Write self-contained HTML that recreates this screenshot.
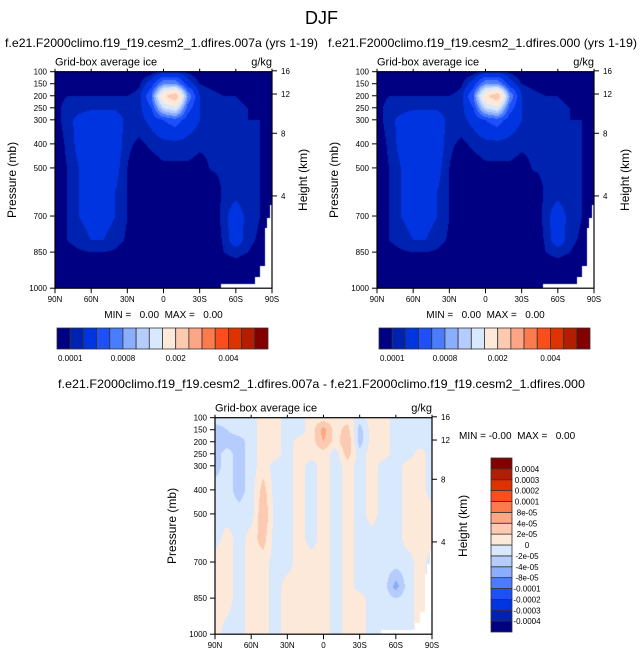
<!DOCTYPE html>
<html><head><meta charset="utf-8"><style>
html,body{margin:0;padding:0;background:#fff;width:643px;height:658px;overflow:hidden}
#wrap{position:relative;width:643px;height:658px}
canvas{position:absolute}
svg{position:absolute;left:0;top:0}
text{font-family:"Liberation Sans",sans-serif;fill:#000}
.pre{white-space:pre}
</style></head><body>
<div id="wrap">
<canvas id="c1"></canvas>
<canvas id="c2"></canvas>
<canvas id="c3"></canvas>
<svg id="s" width="643" height="658"></svg>
</div>
<script>
// ---- data ----
const lats = [90,80,70,60,50,40,30,20,10,0,-10,-20,-30,-40,-50,-60,-70,-80,-90];
const plevs = [100,150,200,250,300,400,500,600,700,800,850,1000];
// mean ice, units of 1e-4 g/kg
const iceMean = [
[0,0,0,0,0,0,0,0,0.5,1.5,1.5,0.8,0,0,0,0,0,0,0],
[0,0,0,0,0,0,0,0.8,3,8,8,3,1,0.5,0,0,0,0,0],
[0.5,1,1,1,1,1,1,1.5,6,19,24,8,2,1.5,1,1,0.8,0.5,0.5],
[0.5,1.5,1.5,1.8,1.8,1.8,1.2,1.5,4,12,14,5,2,1.8,1.5,1.2,1,0.8,0.5],
[0.5,1.5,2.5,3,3,3,1.5,1.5,2.5,4,5,3,2,1.8,1.5,1.2,1,1,0.5],
[0.3,1.2,2.5,3.5,3.5,3,1.2,0.8,1.2,1.5,1.5,1.5,1.2,1.2,1.2,1.2,1,1,0.8],
[0.2,1,2,3,3,2.5,1,0.2,0.5,0.8,0.8,0.8,0.6,1.1,1.2,1.2,1.1,1,0.8],
[0,1,2,2.5,2.5,2,1,0,0,0,0,0,0,0.2,1.2,1.5,1.1,1,0.5],
[0,1,2,2.5,2.5,2,1,0,0,0,0,0,0,0,1.5,3,1.5,1,0.3],
[0,1,1.5,2,2,1.5,0.8,0,0,0,0,0,0,0,1.2,3,1.3,0.8,0],
[0,0.5,0.8,1,1,0.8,0,0,0,0,0,0,0,0,1,1.2,1,0.5,0],
[0,0,0,0,0,0,0,0,0,0,0,0,0,0,0,0,0,0,0]];
const iceMean2 = iceMean;
// difference, units of 1e-5 g/kg
const iceDiff = [
[-1,-1,-1,-1,1,1,-1,-1,1,1,1,1,-1,1,1,-1,-1,-1,-1],
[-3,-2,-1,-1,1,1,-1,-1,1,5,1,3,-3,1,1,-1,-1,-1,-1],
[-3,-3,-3,-1,1,1,-1,1,1,4,1,4,-3,1,1,-1,-1,-1,-1],
[-3,-1,-3,-1,1,1,-1,1,1,1,-1,3,-1,1,1,-1,-1,1,-1],
[-3,-1,-3,-1,1,-1,-1,1,-1,1,-1,1,-1,1,-1,-1,1,1,-1],
[-1,-1,-3,-1,3,-1,-1,1,-1,1,-1,1,-1,1,-1,-1,1,1,-1],
[-1,-1,-1,-1,4,-1,-1,1,-1,1,-1,1,-1,1,-1,-1,1,1,1],
[-1,1,-1,1,3,-1,-1,1,-1,1,-1,1,-1,-1,-1,-1,1,1,1],
[1,1,-1,1,1,-1,-1,1,1,1,-1,1,-1,-1,-1,-1,-1,1,-1],
[1,1,-1,1,1,-1,1,1,1,1,-1,1,-1,-1,-1,-5,-1,1,-1],
[1,1,-1,1,1,-1,1,1,1,1,-1,1,1,-1,-1,-2,-1,1,-1],
[1,-1,-1,1,1,-1,1,1,1,1,-1,1,1,-1,-1,-1,-1,1,-1]];
const meanLevels = [1,2,4,6,8,10,12,15,20,25,30,35,40,45,50];
const meanLabels = ["0.0001","0.0008","0.002","0.004"];
const diffLevels = [-40,-30,-20,-10,-8,-4,-2,0,2,4,8,10,20,30,40];
const diffLabels = ["-0.0004","-0.0003","-0.0002","-0.0001","-8e-05","-4e-05","-2e-05","0","2e-05","4e-05","8e-05","0.0001","0.0002","0.0003","0.0004"];
const terrainLat = [-48,-75,-76,-80,-84,-86,-88,-90];
const terrainPs = [980,980,953,905,750,705,654,600];
const presTicks = [100,150,200,250,300,400,500,700,850,1000];
const latTicks = [90,60,30,0,-30,-60,-90];
const htTicks = [16,12,8,4];
const colors = ["#000082","#0022b0","#0034e0","#1e4ffa","#4a7dfc","#8aaefc","#b5ccfc","#d8e8fd","#fde9da","#fccab0","#fca686","#fc7a4c","#fc4e1c","#e03200","#b41e00","#820000"];

const S = document.getElementById('s');
const NS = 'http://www.w3.org/2000/svg';
function el(tag, attrs, txt){const e=document.createElementNS(NS,tag);for(const k in attrs)e.setAttribute(k,attrs[k]);if(txt!==undefined)e.textContent=txt;S.appendChild(e);return e;}
function hex(c){return [parseInt(c.substr(1,2),16),parseInt(c.substr(3,2),16),parseInt(c.substr(5,2),16)];}
const rgb = colors.map(hex);
function ps(lat){
  if(lat>terrainLat[0]) return 2000;
  for(let i=0;i<terrainLat.length-1;i++){ if(lat<=terrainLat[i]&&lat>terrainLat[i+1]) return terrainPs[i]; }
  return terrainPs[terrainPs.length-1];
}
function sample(grid,lat,p){
  let c=(90-lat)/10; let c0=Math.min(Math.floor(c),lats.length-2); let fc=c-c0;
  let r0=0; while(r0<plevs.length-2 && p>plevs[r0+1]) r0++;
  let fr=(p-plevs[r0])/(plevs[r0+1]-plevs[r0]); fr=Math.max(0,Math.min(1,fr));
  const a=grid[r0][c0],b=grid[r0][c0+1],d=grid[r0+1][c0],e=grid[r0+1][c0+1];
  return (a*(1-fc)+b*fc)*(1-fr)+(d*(1-fc)+e*fc)*fr;
}
function drawField(id,grid,levels,L,T,W,H){
  const cv=document.getElementById(id); cv.width=W; cv.height=H; cv.style.left=L+'px'; cv.style.top=T+'px';
  const ctx=cv.getContext('2d'); const img=ctx.createImageData(W,H);
  for(let y=0;y<H;y++)for(let x=0;x<W;x++){
    const lat=90-(x+0.5)/W*180, p=100+(y+0.5)/H*900;
    const o=(y*W+x)*4; let col;
    if(p>ps(lat)) col=[255,255,255];
    else { const v=sample(grid,lat,p); let k=0; while(k<levels.length&&v>=levels[k])k++; col=rgb[k]; }
    img.data[o]=col[0];img.data[o+1]=col[1];img.data[o+2]=col[2];img.data[o+3]=255;
  }
  ctx.putImageData(img,0,0);
}
function zToP(z){return 1013.25*Math.pow(1-2.25577e-5*z*1000,5.25588);}
function axes(L,T,W,H,pref){
  const xs=lat=>L+(90-lat)/180*W, ys=p=>T+(p-100)/900*H;
  let r=el('rect',{x:L,y:T,width:W,height:H,fill:'none',stroke:'#000','stroke-width':1.2});
   
  presTicks.forEach(p=>{
    const l=el('line',{x1:L-5,x2:L,y1:ys(p),y2:ys(p),stroke:'#000','stroke-width':1});
     
    const t=el('text',{x:L-8,y:ys(p)+3,'font-size':8,'text-anchor':'end'},p);
     
  });
  latTicks.forEach(lat=>{
    const lb=lat===0?'0':(Math.abs(lat)+(lat>0?'N':'S'));
    const l=el('line',{x1:xs(lat),x2:xs(lat),y1:T+H,y2:T+H+5,stroke:'#000','stroke-width':1});
     
    const l2=el('line',{x1:xs(lat),x2:xs(lat),y1:T-3,y2:T,stroke:'#000','stroke-width':1});
     
    const t=el('text',{x:xs(lat),y:T+H+14,'font-size':8,'text-anchor':'middle'},lb);
     
  });
  htTicks.forEach(z=>{
    const y=ys(zToP(z));
    const l=el('line',{x1:L+W,x2:L+W+5,y1:y,y2:y,stroke:'#000','stroke-width':1});
     
    const t=el('text',{x:L+W+9,y:y+3,'font-size':8},z);
     
  });
  let t=el('text',{x:0,y:0,'font-size':12,'text-anchor':'middle',transform:`translate(${L-39},${T+H/2}) rotate(-90)`},'Pressure (mb)');
   
  t=el('text',{x:0,y:0,'font-size':12,'text-anchor':'middle',transform:`translate(${L+W+35},${T+H/2}) rotate(-90)`},'Height (km)');
   
  t=el('text',{x:L,y:T-6,'font-size':11},'Grid-box average ice');
   
  t=el('text',{x:L+W,y:T-6,'font-size':11,'text-anchor':'end'},'g/kg');
   
}
function hbar(L,T,W,H,pref){
  const n=colors.length, bw=W/n;
  colors.forEach((c,i)=>{
    const r=el('rect',{x:L+i*bw,y:T,width:bw,height:H,fill:c,stroke:'#333','stroke-width':0.8});
     
  });
  meanLabels.forEach((lb,j)=>{
    const t=el('text',{x:L+(1+4*j)*bw,y:T+H+12,'font-size':8,'text-anchor':'middle'},lb);
     
  });
}
const T1=71.7,W1=217,H1=216.5;
drawField('c1',iceMean,meanLevels,55,T1,W1,H1);
drawField('c2',iceMean2,meanLevels,377,T1,W1,H1);
drawField('c3',iceDiff,diffLevels,215,417.7,W1,H1);
axes(55,T1,W1,H1,'left');
axes(377,T1,W1,H1,'right');
axes(215,417.7,W1,H1,'diff');
hbar(57,328,211,21,'left');
hbar(379,328,211,21,'right');
(function(){
  const L=491,T=458,W=21,H=174,n=colors.length,bh=H/n;
  colors.forEach((c,i)=>{
    const r=el('rect',{x:L,y:T+H-(i+1)*bh,width:W,height:bh,fill:c,stroke:'#333','stroke-width':0.8});
     
  });
  diffLabels.forEach((lb,i)=>{
    const t=el('text',{x:L+W+15,y:T+H-(i+1)*bh+3,'font-size':8,'text-anchor':'middle'},lb);
     
  });
})();
let t;
t=el('text',{x:321.5,y:24,'font-size':18,'text-anchor':'middle'},'DJF');
 
t=el('text',{x:5,y:47,'font-size':12,textLength:313,lengthAdjust:'spacingAndGlyphs'},'f.e21.F2000climo.f19_f19.cesm2_1.dfires.007a (yrs 1-19)');
 
t=el('text',{x:328,y:47,'font-size':12,textLength:309,lengthAdjust:'spacingAndGlyphs'},'f.e21.F2000climo.f19_f19.cesm2_1.dfires.000 (yrs 1-19)');
 
t=el('text',{x:58,y:388,'font-size':12,textLength:527,lengthAdjust:'spacingAndGlyphs'},'f.e21.F2000climo.f19_f19.cesm2_1.dfires.007a - f.e21.F2000climo.f19_f19.cesm2_1.dfires.000');
 
t=el('text',{x:163.5,y:318,'font-size':10,'text-anchor':'middle','class':'pre'},'MIN =   0.00  MAX =   0.00');
 
t=el('text',{x:485.5,y:318,'font-size':10,'text-anchor':'middle','class':'pre'},'MIN =   0.00  MAX =   0.00');
 
t=el('text',{x:459,y:439,'font-size':10,'class':'pre'},'MIN = -0.00  MAX =   0.00');
 
</script>
</body></html>
